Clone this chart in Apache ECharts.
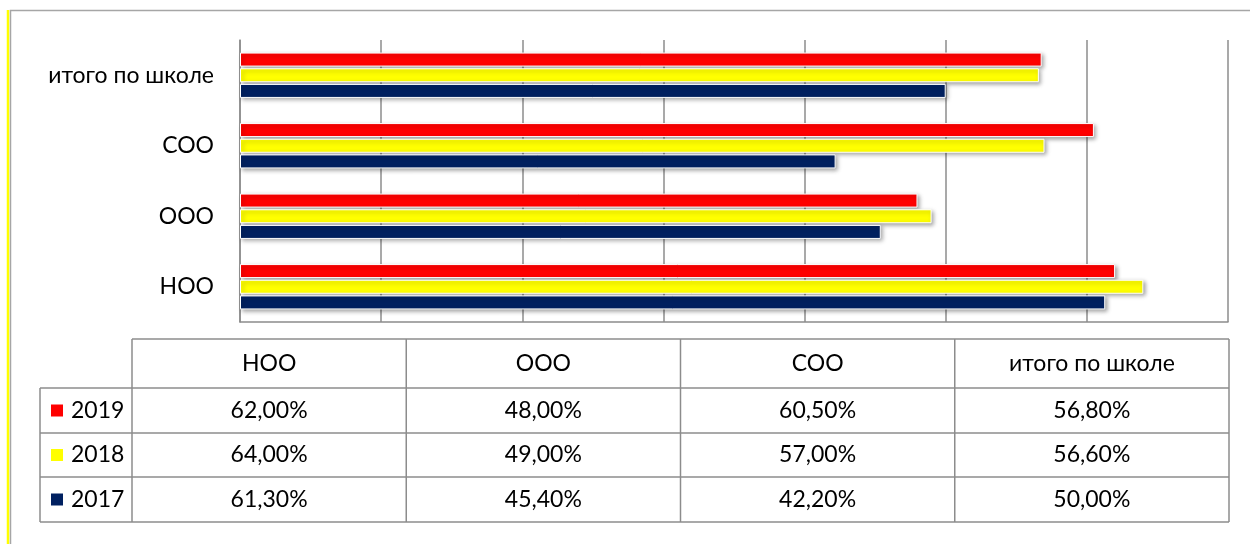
<!DOCTYPE html>
<html><head><meta charset="utf-8">
<script src="https://cdn.jsdelivr.net/npm/echarts@6/dist/echarts.min.js"></script>
<style>html,body{margin:0;padding:0;background:#fff}#c{width:1250px;height:544px}</style>
</head><body><div id="c"></div>
<script>
var categories = ['НОО', 'ООО', 'СОО', 'итого по школе'];
var years = ['2019', '2018', '2017'];
var colors = ['#FF0000', '#FFFF00', '#002060'];
var v2019 = [62.0, 48.0, 60.5, 56.8];
var v2018 = [64.0, 49.0, 57.0, 56.6];
var v2017 = [61.3, 45.4, 42.2, 50.0];
var values = [v2019, v2018, v2017];

var FONT = 'Lato';
var FS = 23;
var chart = echarts.init(document.getElementById('c'));

function fmt(v) { return v.toFixed(2).replace('.', ',') + '%'; }

// table geometry
var tLeft = 40, tKeyRight = 132, tRight = 1229;
var colW = (tRight - tKeyRight) / categories.length;
var rowEdges = [339, 388, 433, 477, 522];
var lineColor = '#8c8c8c';
var g = [];
// outer frame
g.push({type: 'line', shape: {x1: 8, y1: 10, x2: 8, y2: 544}, style: {stroke: '#FFFF00', lineWidth: 2.5}, silent: true});
g.push({type: 'rect', shape: {x: 10.5, y: 10.5, width: 1300, height: 600}, style: {fill: null, stroke: '#a6a6a6', lineWidth: 1.5}, silent: true});
// table lines
g.push({type: 'line', shape: {x1: tKeyRight, y1: rowEdges[0], x2: tRight, y2: rowEdges[0]}, style: {stroke: lineColor, lineWidth: 1.5}});
for (var r = 1; r < rowEdges.length; r++) {
  g.push({type: 'line', shape: {x1: tLeft, y1: rowEdges[r], x2: tRight, y2: rowEdges[r]}, style: {stroke: lineColor, lineWidth: 1.5}});
}
g.push({type: 'line', shape: {x1: tLeft, y1: rowEdges[1], x2: tLeft, y2: rowEdges[4]}, style: {stroke: lineColor, lineWidth: 1.5}});
for (var c = 0; c <= categories.length; c++) {
  var x = tKeyRight + c * colW;
  g.push({type: 'line', shape: {x1: x, y1: rowEdges[0], x2: x, y2: rowEdges[4]}, style: {stroke: lineColor, lineWidth: 1.5}});
}
// header
categories.forEach(function (cat, i) {
  g.push({type: 'text', x: tKeyRight + (i + 0.5) * colW, y: (rowEdges[0] + rowEdges[1]) / 2,
    style: {text: cat, fill: '#000', font: FS + 'px ' + FONT, textAlign: 'center', textVerticalAlign: 'middle'}});
});
// rows: 2019, 2018, 2017
years.forEach(function (yr, ri) {
  var cy = (rowEdges[ri + 1] + rowEdges[ri + 2]) / 2;
  g.push({type: 'rect', shape: {x: 51, y: cy - 6, width: 12, height: 12}, style: {fill: colors[ri]}});
  g.push({type: 'text', x: 71, y: cy, style: {text: yr, fill: '#000', font: FS + 'px ' + FONT, textAlign: 'left', textVerticalAlign: 'middle'}});
  values[ri].forEach(function (v, ci) {
    g.push({type: 'text', x: tKeyRight + (ci + 0.5) * colW, y: cy,
      style: {text: fmt(v), fill: '#000', font: FS + 'px ' + FONT, textAlign: 'center', textVerticalAlign: 'middle'}});
  });
});

chart.setOption({
  animation: false,
  backgroundColor: '#fff',
  grid: {left: 240, right: 22, top: 40, bottom: 222, containLabel: false},
  xAxis: {
    type: 'value', min: 0, max: 70, interval: 10,
    axisLabel: {show: false}, axisTick: {show: false},
    axisLine: {show: true, lineStyle: {color: '#8c8c8c', width: 1.5}},
    splitLine: {show: true, lineStyle: {color: '#8c8c8c', width: 1.5}}
  },
  yAxis: {
    type: 'category', data: categories,
    axisTick: {show: false},
    axisLine: {show: true, lineStyle: {color: '#8c8c8c', width: 1.5}},
    axisLabel: {color: '#000', fontSize: FS, fontFamily: FONT, margin: 26}
  },
  series: years.map(function (y, i) {
    return {
      name: y, type: 'bar', data: values[i], barWidth: 14, barGap: '12%',
      itemStyle: {color: colors[i], borderColor: '#fff', borderWidth: 1,
        shadowColor: 'rgba(0,0,0,0.35)', shadowBlur: 4, shadowOffsetX: 2, shadowOffsetY: 2}
    };
  }),
  graphic: g
});
</script></body></html>
